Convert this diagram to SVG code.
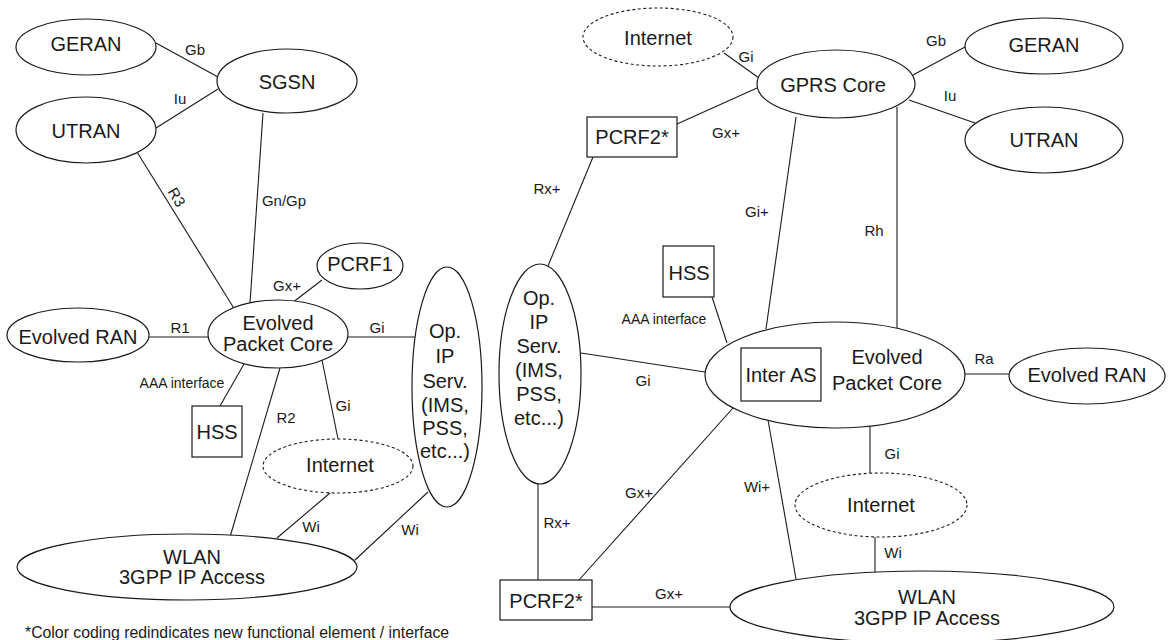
<svg xmlns="http://www.w3.org/2000/svg" width="1171" height="640" viewBox="0 0 1171 640">
  <style>
    .bg { fill: #ffffff; }
    .node { fill: #ffffff; stroke: #1a1a1a; stroke-width: 1.2; }
    .dashed { stroke-dasharray: 3 2.5; stroke-width: 1.1; }
    .link { stroke: #1a1a1a; stroke-width: 1.1; fill: none; }
    text { font-family: "Liberation Sans", Arial, Helvetica, sans-serif; fill: #1a1a1a; text-anchor: middle; dominant-baseline: central; }
    .big { font-size: 20px; }
    .lbl { font-size: 15px; }
    .aaa { font-size: 14px; }
    .note { font-size: 15.8px; text-anchor: start; }
  </style>

  <rect class="bg" x="0" y="0" width="1171" height="640"/>

  <!-- interfaces between the network elements -->
  <g id="connectors">
    <!-- left architecture -->
    <line class="link" x1="156" y1="43" x2="218" y2="77"/>
    <line class="link" x1="156" y1="128" x2="218" y2="89"/>
    <line class="link" x1="137" y1="152" x2="235" y2="310"/>
    <line class="link" x1="263" y1="113" x2="250" y2="303"/>
    <line class="link" x1="322" y1="280" x2="292" y2="303"/>
    <line class="link" x1="149" y1="337" x2="208" y2="337"/>
    <line class="link" x1="348" y1="337" x2="415" y2="337"/>
    <line class="link" x1="244" y1="364" x2="220" y2="406"/>
    <line class="link" x1="280" y1="368" x2="230" y2="537"/>
    <line class="link" x1="322" y1="360" x2="338" y2="439"/>
    <line class="link" x1="330" y1="493" x2="277" y2="538"/>
    <line class="link" x1="428" y1="492" x2="355" y2="560"/>

    <!-- right architecture -->
    <line class="link" x1="724" y1="53" x2="759" y2="78"/>
    <line class="link" x1="677" y1="124" x2="757" y2="88"/>
    <line class="link" x1="913" y1="75" x2="965" y2="47"/>
    <line class="link" x1="909" y1="100" x2="975" y2="123"/>
    <line class="link" x1="796" y1="117" x2="766" y2="329"/>
    <line class="link" x1="897" y1="107" x2="897" y2="328"/>
    <line class="link" x1="593" y1="157" x2="548" y2="266"/>
    <line class="link" x1="712" y1="297" x2="727" y2="343"/>
    <line class="link" x1="581" y1="353" x2="705" y2="372"/>
    <line class="link" x1="965" y1="374" x2="1009" y2="374"/>
    <line class="link" x1="733" y1="408" x2="579" y2="580"/>
    <line class="link" x1="768" y1="420" x2="796" y2="579"/>
    <line class="link" x1="870" y1="426" x2="870" y2="473"/>
    <line class="link" x1="875" y1="537" x2="875" y2="572"/>
    <line class="link" x1="592" y1="607" x2="731" y2="607"/>
    <line class="link" x1="538" y1="484" x2="538" y2="580"/>

    <!-- interface names -->
    <text class="lbl" x="195" y="49">Gb</text>
    <text class="lbl" x="180" y="98">Iu</text>
    <text class="lbl" x="177" y="197" transform="rotate(59 177 197)">R3</text>
    <text class="lbl" x="284" y="200">Gn/Gp</text>
    <text class="lbl" x="287" y="285">Gx+</text>
    <text class="lbl" x="180" y="327">R1</text>
    <text class="lbl" x="377" y="327">Gi</text>
    <text class="aaa" x="182" y="383">AAA interface</text>
    <text class="lbl" x="286" y="417">R2</text>
    <text class="lbl" x="343" y="405">Gi</text>
    <text class="lbl" x="311" y="526">Wi</text>
    <text class="lbl" x="410" y="529">Wi</text>

    <text class="lbl" x="746" y="56">Gi</text>
    <text class="lbl" x="726" y="132">Gx+</text>
    <text class="lbl" x="936" y="40">Gb</text>
    <text class="lbl" x="950" y="95">Iu</text>
    <text class="lbl" x="757" y="211">Gi+</text>
    <text class="lbl" x="874" y="230">Rh</text>
    <text class="lbl" x="547" y="188">Rx+</text>
    <text class="aaa" x="664" y="319">AAA interface</text>
    <text class="lbl" x="643" y="380">Gi</text>
    <text class="lbl" x="984" y="358">Ra</text>
    <text class="lbl" x="639" y="492">Gx+</text>
    <text class="lbl" x="757" y="486">Wi+</text>
    <text class="lbl" x="892" y="453">Gi</text>
    <text class="lbl" x="893" y="552">Wi</text>
    <text class="lbl" x="669" y="593">Gx+</text>
    <text class="lbl" x="557" y="522">Rx+</text>
  </g>

  <!-- left architecture: network elements -->
  <g id="geran-left">
    <ellipse class="node" cx="86" cy="47" rx="70" ry="28"/>
    <text class="big" x="86" y="44">GERAN</text>
  </g>
  <g id="sgsn">
    <ellipse class="node" cx="287" cy="81" rx="70" ry="32"/>
    <text class="big" x="287" y="82">SGSN</text>
  </g>
  <g id="utran-left">
    <ellipse class="node" cx="86" cy="130" rx="70" ry="33"/>
    <text class="big" x="86" y="131">UTRAN</text>
  </g>
  <g id="evolved-ran-left">
    <ellipse class="node" cx="78" cy="335" rx="71" ry="27"/>
    <text class="big" x="78" y="337">Evolved RAN</text>
  </g>
  <g id="epc-left">
    <ellipse class="node" cx="278" cy="334" rx="70" ry="34"/>
    <text class="big" x="278" y="323">Evolved</text>
    <text class="big" x="278" y="344">Packet Core</text>
  </g>
  <g id="pcrf1">
    <ellipse class="node" cx="360" cy="266" rx="43" ry="23"/>
    <text class="big" x="360" y="264">PCRF1</text>
  </g>
  <g id="op-ip-left">
    <ellipse class="node" cx="447" cy="387" rx="35" ry="120"/>
    <text class="big" x="445" y="331">Op.</text>
    <text class="big" x="445" y="356">IP</text>
    <text class="big" x="445" y="381">Serv.</text>
    <text class="big" x="445" y="405">(IMS,</text>
    <text class="big" x="445" y="428">PSS,</text>
    <text class="big" x="445" y="451">etc...)</text>
  </g>
  <g id="hss-left">
    <rect class="node" x="192" y="406" width="50" height="51"/>
    <text class="big" x="217" y="432">HSS</text>
  </g>
  <g id="internet-left">
    <ellipse class="node dashed" cx="338" cy="466" rx="75" ry="27"/>
    <text class="big" x="340" y="465">Internet</text>
  </g>
  <g id="wlan-left">
    <ellipse class="node" cx="187" cy="567" rx="170" ry="33"/>
    <text class="big" x="192" y="557">WLAN</text>
    <text class="big" x="192" y="577">3GPP IP Access</text>
  </g>

  <!-- right architecture: network elements -->
  <g id="internet-top">
    <ellipse class="node dashed" cx="658" cy="37" rx="75" ry="29"/>
    <text class="big" x="658" y="38">Internet</text>
  </g>
  <g id="gprs-core">
    <ellipse class="node" cx="836" cy="84" rx="79" ry="34"/>
    <text class="big" x="833" y="85">GPRS Core</text>
  </g>
  <g id="geran-right">
    <ellipse class="node" cx="1044" cy="46" rx="79" ry="28"/>
    <text class="big" x="1044" y="45">GERAN</text>
  </g>
  <g id="utran-right">
    <ellipse class="node" cx="1044" cy="140" rx="79" ry="33"/>
    <text class="big" x="1044" y="140">UTRAN</text>
  </g>
  <g id="pcrf2-top">
    <rect class="node" x="587" y="117" width="90" height="40"/>
    <text class="big" x="632" y="137">PCRF2*</text>
  </g>
  <g id="op-ip-right">
    <ellipse class="node" cx="540" cy="374" rx="41" ry="110"/>
    <text class="big" x="539" y="298">Op.</text>
    <text class="big" x="539" y="322">IP</text>
    <text class="big" x="539" y="346">Serv.</text>
    <text class="big" x="539" y="370">(IMS,</text>
    <text class="big" x="539" y="394">PSS,</text>
    <text class="big" x="539" y="418">etc...)</text>
  </g>
  <g id="hss-right">
    <rect class="node" x="663" y="246" width="51" height="51"/>
    <text class="big" x="689" y="273">HSS</text>
  </g>
  <g id="epc-right">
    <ellipse class="node" cx="835" cy="375" rx="130" ry="53"/>
    <rect class="node" x="741" y="348" width="80" height="53"/>
    <text class="big" x="781" y="375">Inter AS</text>
    <text class="big" x="887" y="357">Evolved</text>
    <text class="big" x="887" y="383">Packet Core</text>
  </g>
  <g id="evolved-ran-right">
    <ellipse class="node" cx="1087" cy="376" rx="78" ry="28"/>
    <text class="big" x="1087" y="375">Evolved RAN</text>
  </g>
  <g id="internet-bottom">
    <ellipse class="node dashed" cx="881" cy="505" rx="86" ry="32"/>
    <text class="big" x="881" y="505">Internet</text>
  </g>
  <g id="wlan-right">
    <ellipse class="node" cx="922" cy="607" rx="192" ry="36"/>
    <text class="big" x="927" y="597">WLAN</text>
    <text class="big" x="927" y="618">3GPP IP Access</text>
  </g>
  <g id="pcrf2-bottom">
    <rect class="node" x="500" y="580" width="92" height="40"/>
    <text class="big" x="546" y="601">PCRF2*</text>
  </g>

  <text class="note" x="25" y="632">*Color coding redindicates new functional element / interface</text>
</svg>
